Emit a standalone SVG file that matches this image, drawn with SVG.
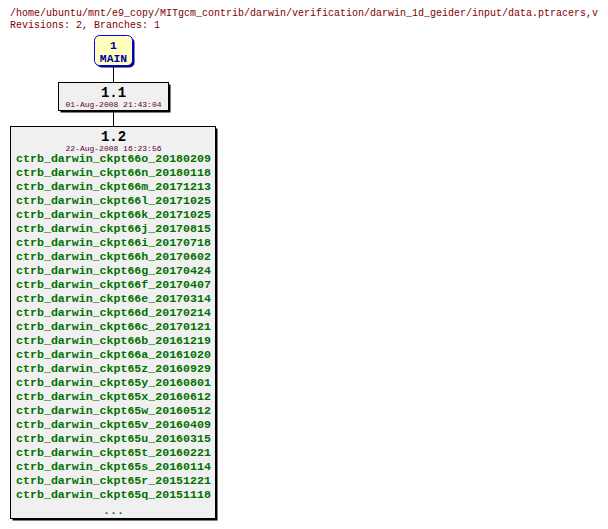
<svg xmlns="http://www.w3.org/2000/svg" width="608" height="529" viewBox="0 0 608 529">
<style>
text{font-family:"Liberation Mono","DejaVu Sans Mono",monospace}
.hdr{font-size:10px;fill:#800000}
.rev{font-size:14px;font-weight:bold;fill:#000;text-anchor:middle}
.date{font-size:8px;fill:#600030;text-anchor:middle}
.tag{font-size:11.6px;font-weight:bold;fill:#007000;text-anchor:middle}
.br{font-size:11.4px;font-weight:bold;fill:#0000a0;text-anchor:middle}
.box{fill:#f0f0f0;stroke:#000;stroke-width:1}
.sh{fill:#000}
</style>
<rect width="608" height="529" fill="#fff"/>
<text class="hdr" x="10" y="16">/home/ubuntu/mnt/e9_copy/MITgcm_contrib/darwin/verification/darwin_1d_geider/input/data.ptracers,v</text>
<text class="hdr" x="10" y="28">Revisions: 2, Branches: 1</text>
<g id="connectors" stroke="#000" stroke-width="1">
<line x1="113.5" y1="66" x2="113.5" y2="82"/>
<line x1="113.5" y1="112" x2="113.5" y2="126"/>
</g>
<g id="node-main">
<rect x="96.5" y="37.5" width="38" height="30" rx="5" fill="#000080"/>
<rect x="94.5" y="35.5" width="38" height="30" rx="5" fill="#ffffc0" stroke="#0000ff" stroke-width="1"/>
<text class="br" x="113.5" y="49">1</text>
<text class="br" x="113.5" y="62">MAIN</text>
</g>
<g id="node-1.1">
<rect class="sh" x="60.5" y="84.5" width="110" height="28"/>
<rect class="box" x="58.5" y="82.5" width="110" height="28"/>
<text class="rev" x="113.5" y="97">1.1</text>
<text class="date" x="113.5" y="107">01-Aug-2008 21:43:04</text>
</g>
<g id="node-1.2">
<rect class="sh" x="12.5" y="128.5" width="205" height="392"/>
<rect class="box" x="10.5" y="126.5" width="205" height="392"/>
<text class="rev" x="113.5" y="141">1.2</text>
<text class="date" x="113.5" y="151">22-Aug-2008 16:23:56</text>
<text class="tag" x="113.5" y="162">ctrb_darwin_ckpt66o_20180209</text>
<text class="tag" x="113.5" y="176">ctrb_darwin_ckpt66n_20180118</text>
<text class="tag" x="113.5" y="190">ctrb_darwin_ckpt66m_20171213</text>
<text class="tag" x="113.5" y="204">ctrb_darwin_ckpt66l_20171025</text>
<text class="tag" x="113.5" y="218">ctrb_darwin_ckpt66k_20171025</text>
<text class="tag" x="113.5" y="232">ctrb_darwin_ckpt66j_20170815</text>
<text class="tag" x="113.5" y="246">ctrb_darwin_ckpt66i_20170718</text>
<text class="tag" x="113.5" y="260">ctrb_darwin_ckpt66h_20170602</text>
<text class="tag" x="113.5" y="274">ctrb_darwin_ckpt66g_20170424</text>
<text class="tag" x="113.5" y="288">ctrb_darwin_ckpt66f_20170407</text>
<text class="tag" x="113.5" y="302">ctrb_darwin_ckpt66e_20170314</text>
<text class="tag" x="113.5" y="316">ctrb_darwin_ckpt66d_20170214</text>
<text class="tag" x="113.5" y="330">ctrb_darwin_ckpt66c_20170121</text>
<text class="tag" x="113.5" y="344">ctrb_darwin_ckpt66b_20161219</text>
<text class="tag" x="113.5" y="358">ctrb_darwin_ckpt66a_20161020</text>
<text class="tag" x="113.5" y="372">ctrb_darwin_ckpt65z_20160929</text>
<text class="tag" x="113.5" y="386">ctrb_darwin_ckpt65y_20160801</text>
<text class="tag" x="113.5" y="400">ctrb_darwin_ckpt65x_20160612</text>
<text class="tag" x="113.5" y="414">ctrb_darwin_ckpt65w_20160512</text>
<text class="tag" x="113.5" y="428">ctrb_darwin_ckpt65v_20160409</text>
<text class="tag" x="113.5" y="442">ctrb_darwin_ckpt65u_20160315</text>
<text class="tag" x="113.5" y="456">ctrb_darwin_ckpt65t_20160221</text>
<text class="tag" x="113.5" y="470">ctrb_darwin_ckpt65s_20160114</text>
<text class="tag" x="113.5" y="484">ctrb_darwin_ckpt65r_20151221</text>
<text class="tag" x="113.5" y="498">ctrb_darwin_ckpt65q_20151118</text>
<text class="tag" x="113.5" y="514">...</text>
</g>
</svg>
